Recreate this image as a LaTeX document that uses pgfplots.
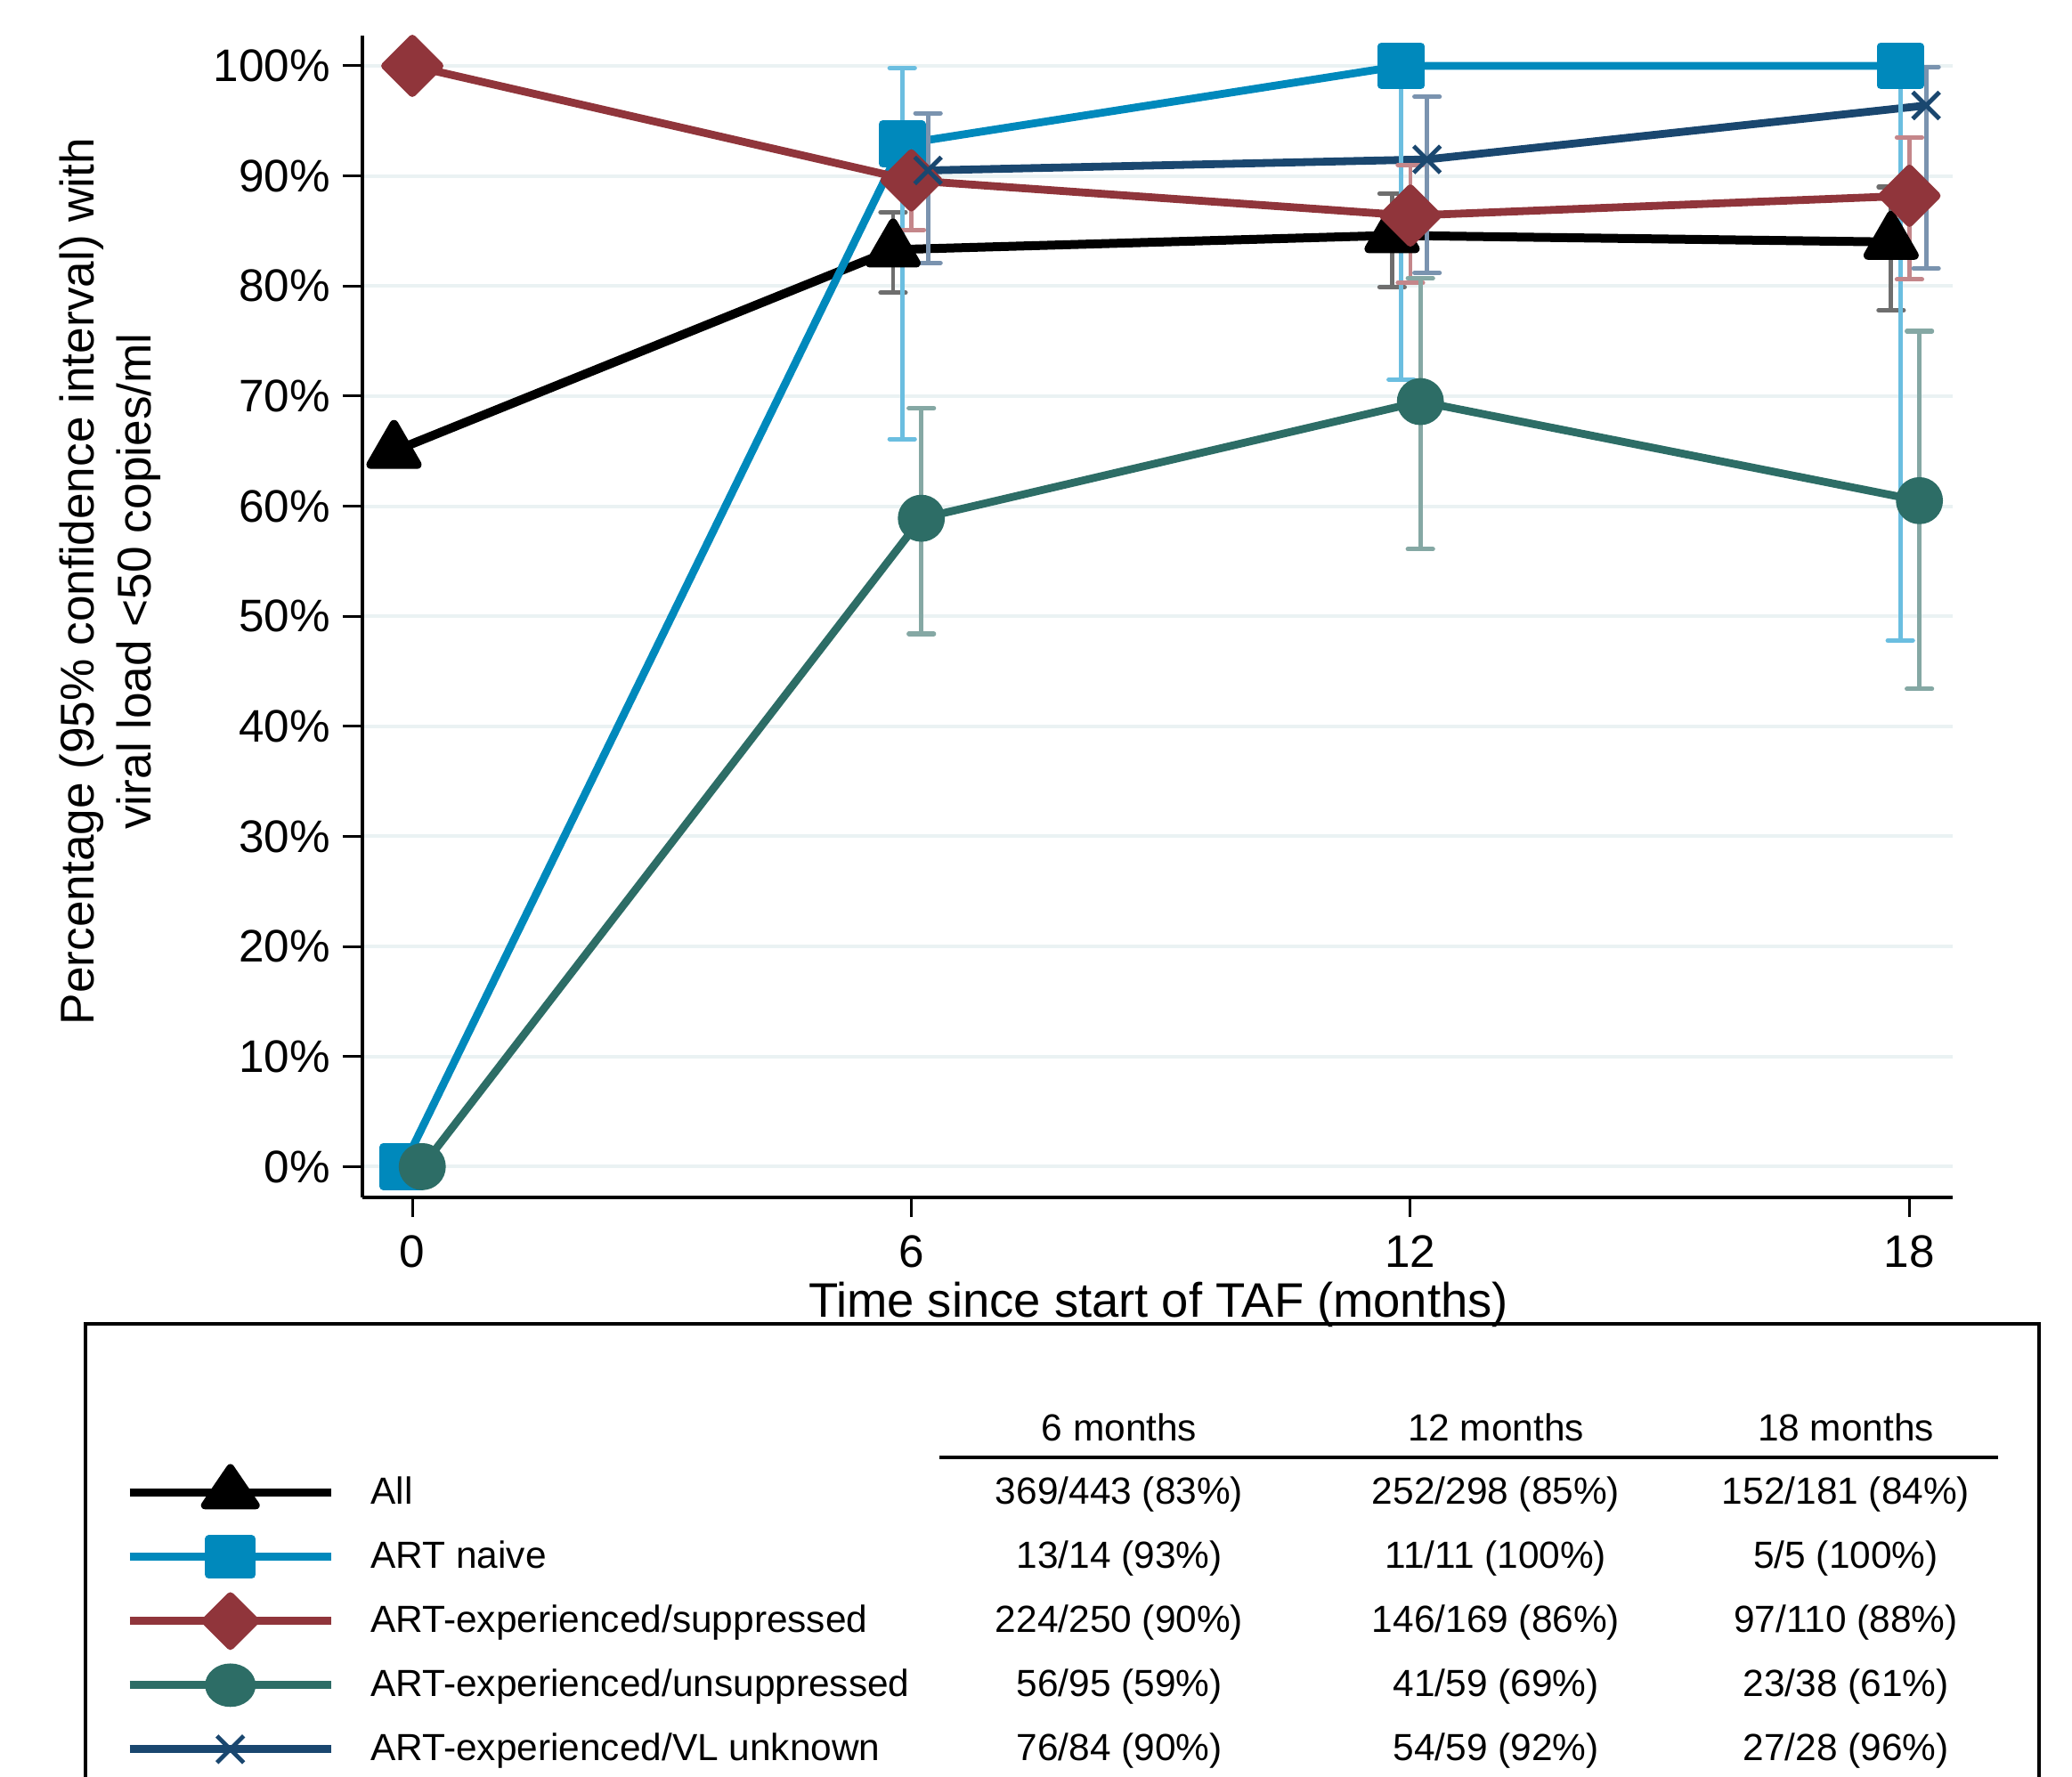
\documentclass[border=0pt]{standalone}
\usepackage{pgfplots}
\usepackage{pgfplotstable}
\pgfplotsset{compat=1.18}
\usepackage{fontspec}
\setmainfont{Liberation Sans}
\definecolor{cAll}{RGB}{0,0,0}
\definecolor{ciAll}{RGB}{110,110,110}
\definecolor{cNai}{RGB}{0,137,188}
\definecolor{ciNai}{RGB}{107,190,224}
\definecolor{cSup}{RGB}{144,53,59}
\definecolor{ciSup}{RGB}{196,134,138}
\definecolor{cUns}{RGB}{45,109,102}
\definecolor{ciUns}{RGB}{133,168,164}
\definecolor{cUnk}{RGB}{26,71,111}
\definecolor{ciUnk}{RGB}{122,147,175}
\definecolor{gridc}{RGB}{234,242,243}

\pgfplotstableread{
x y ep em
-0.22 65.0 0 0
5.78 83.3 3.4 3.9
11.78 84.6 3.8 4.7
17.78 84.0 5.0 6.2
}\tAll
\pgfplotstableread{
x y ep em
-0.11 0 0 0
5.89 92.9 6.9 26.8
11.89 100 0 28.5
17.89 100 0 52.2
}\tNai
\pgfplotstableread{
x y ep em
0 100 0 0
6 89.6 3.4 4.5
12 86.4 4.6 6.1
18 88.2 5.3 7.6
}\tSup
\pgfplotstableread{
x y ep em
0.12 0 0 0
6.12 58.9 10.0 10.5
12.12 69.5 11.2 13.4
18.12 60.5 15.4 17.1
}\tUns
\pgfplotstableread{
x y ep em
6.2 90.5 5.2 8.4
12.2 91.5 5.7 10.3
18.2 96.4 3.5 14.8
}\tUnk

\pgfplotsset{
  cibar/.style={forget plot, draw=none, mark=none, error bars/.cd, y dir=both, y explicit,
    error bar style={draw=#1, line width=1.2pt},
    error mark options={draw=#1, rotate=90, mark size=3.5pt, line width=1.3pt, line cap=round}},
}

\begin{document}
\begin{tikzpicture}
\useasboundingbox (0pt,0pt) rectangle (581.75pt,498.75pt);
\begin{axis}[
  at={(101.75pt,162.5pt)}, anchor=south west,
  scale only axis, width=446.5pt, height=326.25pt,
  xmin=-0.6, xmax=18.52, ymin=-2.8, ymax=102.75,
  axis lines*=left,
  axis line style={line width=0.85pt},
  xtick={0,6,12,18}, xticklabels={0,6,12,18},
  ytick={0,10,20,30,40,50,60,70,80,90,100},
  yticklabels={0\%,10\%,20\%,30\%,40\%,50\%,60\%,70\%,80\%,90\%,100\%},
  tick align=outside, major tick length=5.5pt,
  tick style={line width=0.75pt, black},
  ymajorgrids, grid style={line width=1pt, gridc},
  tick label style={font=\fontsize{12.8}{15}\selectfont},
  xticklabel style={yshift=-1.6pt},
  /pgf/number format/assume math mode=true,
  clip=false,
  legend cell align=left,
  legend style={at={(-0.1492,-0.2261)}, anchor=north west, draw=none, fill=none,
    inner sep=0pt, row sep=0pt, font=\fontsize{10.6}{12}\selectfont,
    nodes={inner sep=0pt}},
  legend image code/.code={\path[draw=none,fill=none] (0pt,-9pt) rectangle (56.5pt,9pt);
    \draw[mark repeat=2,mark phase=2,#1] plot coordinates {(0pt,0pt) (28.25pt,0pt) (56.5pt,0pt)};},
  every axis plot/.append style={line join=round},
]
% lines and markers
\addplot[forget plot, cAll, line width=2.5pt, mark=triangle*, mark size=7.5pt] table[x=x,y=y]{\tAll};
\addplot[forget plot, cNai, line width=2.2pt, mark=square*, mark size=5.5pt] table[x=x,y=y]{\tNai};
\addplot[forget plot, cSup, line width=2.2pt, mark=square*, mark size=5.4pt, mark options={rotate=45}] table[x=x,y=y]{\tSup};
\addplot[forget plot, cUns, line width=2.2pt, mark=*, mark size=5.5pt] table[x=x,y=y]{\tUns};
\addplot[forget plot, cUnk, line width=2.2pt, mark=x, mark size=5.3pt, mark options={line width=1.2pt}] table[x=x,y=y]{\tUnk};
% confidence intervals
\addplot[cibar=ciAll] table[x=x,y=y,y error plus=ep,y error minus=em]{\tAll};
\addplot[cibar=ciNai] table[x=x,y=y,y error plus=ep,y error minus=em]{\tNai};
\addplot[cibar=ciSup] table[x=x,y=y,y error plus=ep,y error minus=em]{\tSup};
\addplot[cibar=ciUns] table[x=x,y=y,y error plus=ep,y error minus=em]{\tUns};
\addplot[cibar=ciUnk] table[x=x,y=y,y error plus=ep,y error minus=em]{\tUnk};
% legend
\addlegendimage{cAll, line width=2.2pt, mark=triangle*, mark size=7pt, mark options={xscale=1.18}}
\addlegendentry{\hspace{10.1pt}All}
\addlegendimage{cNai, line width=2.2pt, mark=square*, mark size=5pt, mark options={xscale=1.2}}
\addlegendentry{\hspace{10.1pt}ART naive}
\addlegendimage{cSup, line width=2.2pt, mark=square*, mark size=4.95pt, mark options={rotate=45}}
\addlegendentry{\hspace{10.1pt}ART-experienced/suppressed}
\addlegendimage{cUns, line width=2.2pt, mark=*, mark size=5pt, mark options={xscale=1.2}}
\addlegendentry{\hspace{10.1pt}ART-experienced/unsuppressed}
\addlegendimage{cUnk, line width=2.2pt, mark=x, mark size=5.3pt, mark options={line width=1.2pt}}
\addlegendentry{\hspace{10.1pt}ART-experienced/VL unknown}
\end{axis}
% axis titles
\node[rotate=90, align=center, font=\fontsize{13.3}{16}\selectfont] at (31pt,335.5pt)
  {Percentage (95\% confidence interval) with\\viral load <50 copies/ml};
\node[anchor=base, font=\fontsize{13.6}{16}\selectfont] at (325.25pt,128.75pt)
  {Time since start of TAF (months)};
% legend box and table
\draw[line width=1.2pt] (24pt,-5pt) -- (24pt,127pt) -- (572.5pt,127pt) -- (572.5pt,-5pt);
\draw[line width=0.8pt] (263.75pt,89.5pt) -- (561pt,89.5pt);
\begin{scope}[every node/.style={anchor=base, font=\fontsize{10.6}{12}\selectfont, inner sep=0pt}]
\node at (314.25pt,94pt) {6 months};
\node at (420pt,94pt) {12 months};
\node at (518.25pt,94pt) {18 months};
\node at (314.25pt,76.5pt) {369/443 (83\%)};
\node at (420pt,76.5pt) {252/298 (85\%)};
\node at (518.25pt,76.5pt) {152/181 (84\%)};
\node at (314.25pt,58.5pt) {13/14 (93\%)};
\node at (420pt,58.5pt) {11/11 (100\%)};
\node at (518.25pt,58.5pt) {5/5 (100\%)};
\node at (314.25pt,40.5pt) {224/250 (90\%)};
\node at (420pt,40.5pt) {146/169 (86\%)};
\node at (518.25pt,40.5pt) {97/110 (88\%)};
\node at (314.25pt,22.5pt) {56/95 (59\%)};
\node at (420pt,22.5pt) {41/59 (69\%)};
\node at (518.25pt,22.5pt) {23/38 (61\%)};
\node at (314.25pt,4.5pt) {76/84 (90\%)};
\node at (420pt,4.5pt) {54/59 (92\%)};
\node at (518.25pt,4.5pt) {27/28 (96\%)};
\end{scope}
\end{tikzpicture}
\end{document}
